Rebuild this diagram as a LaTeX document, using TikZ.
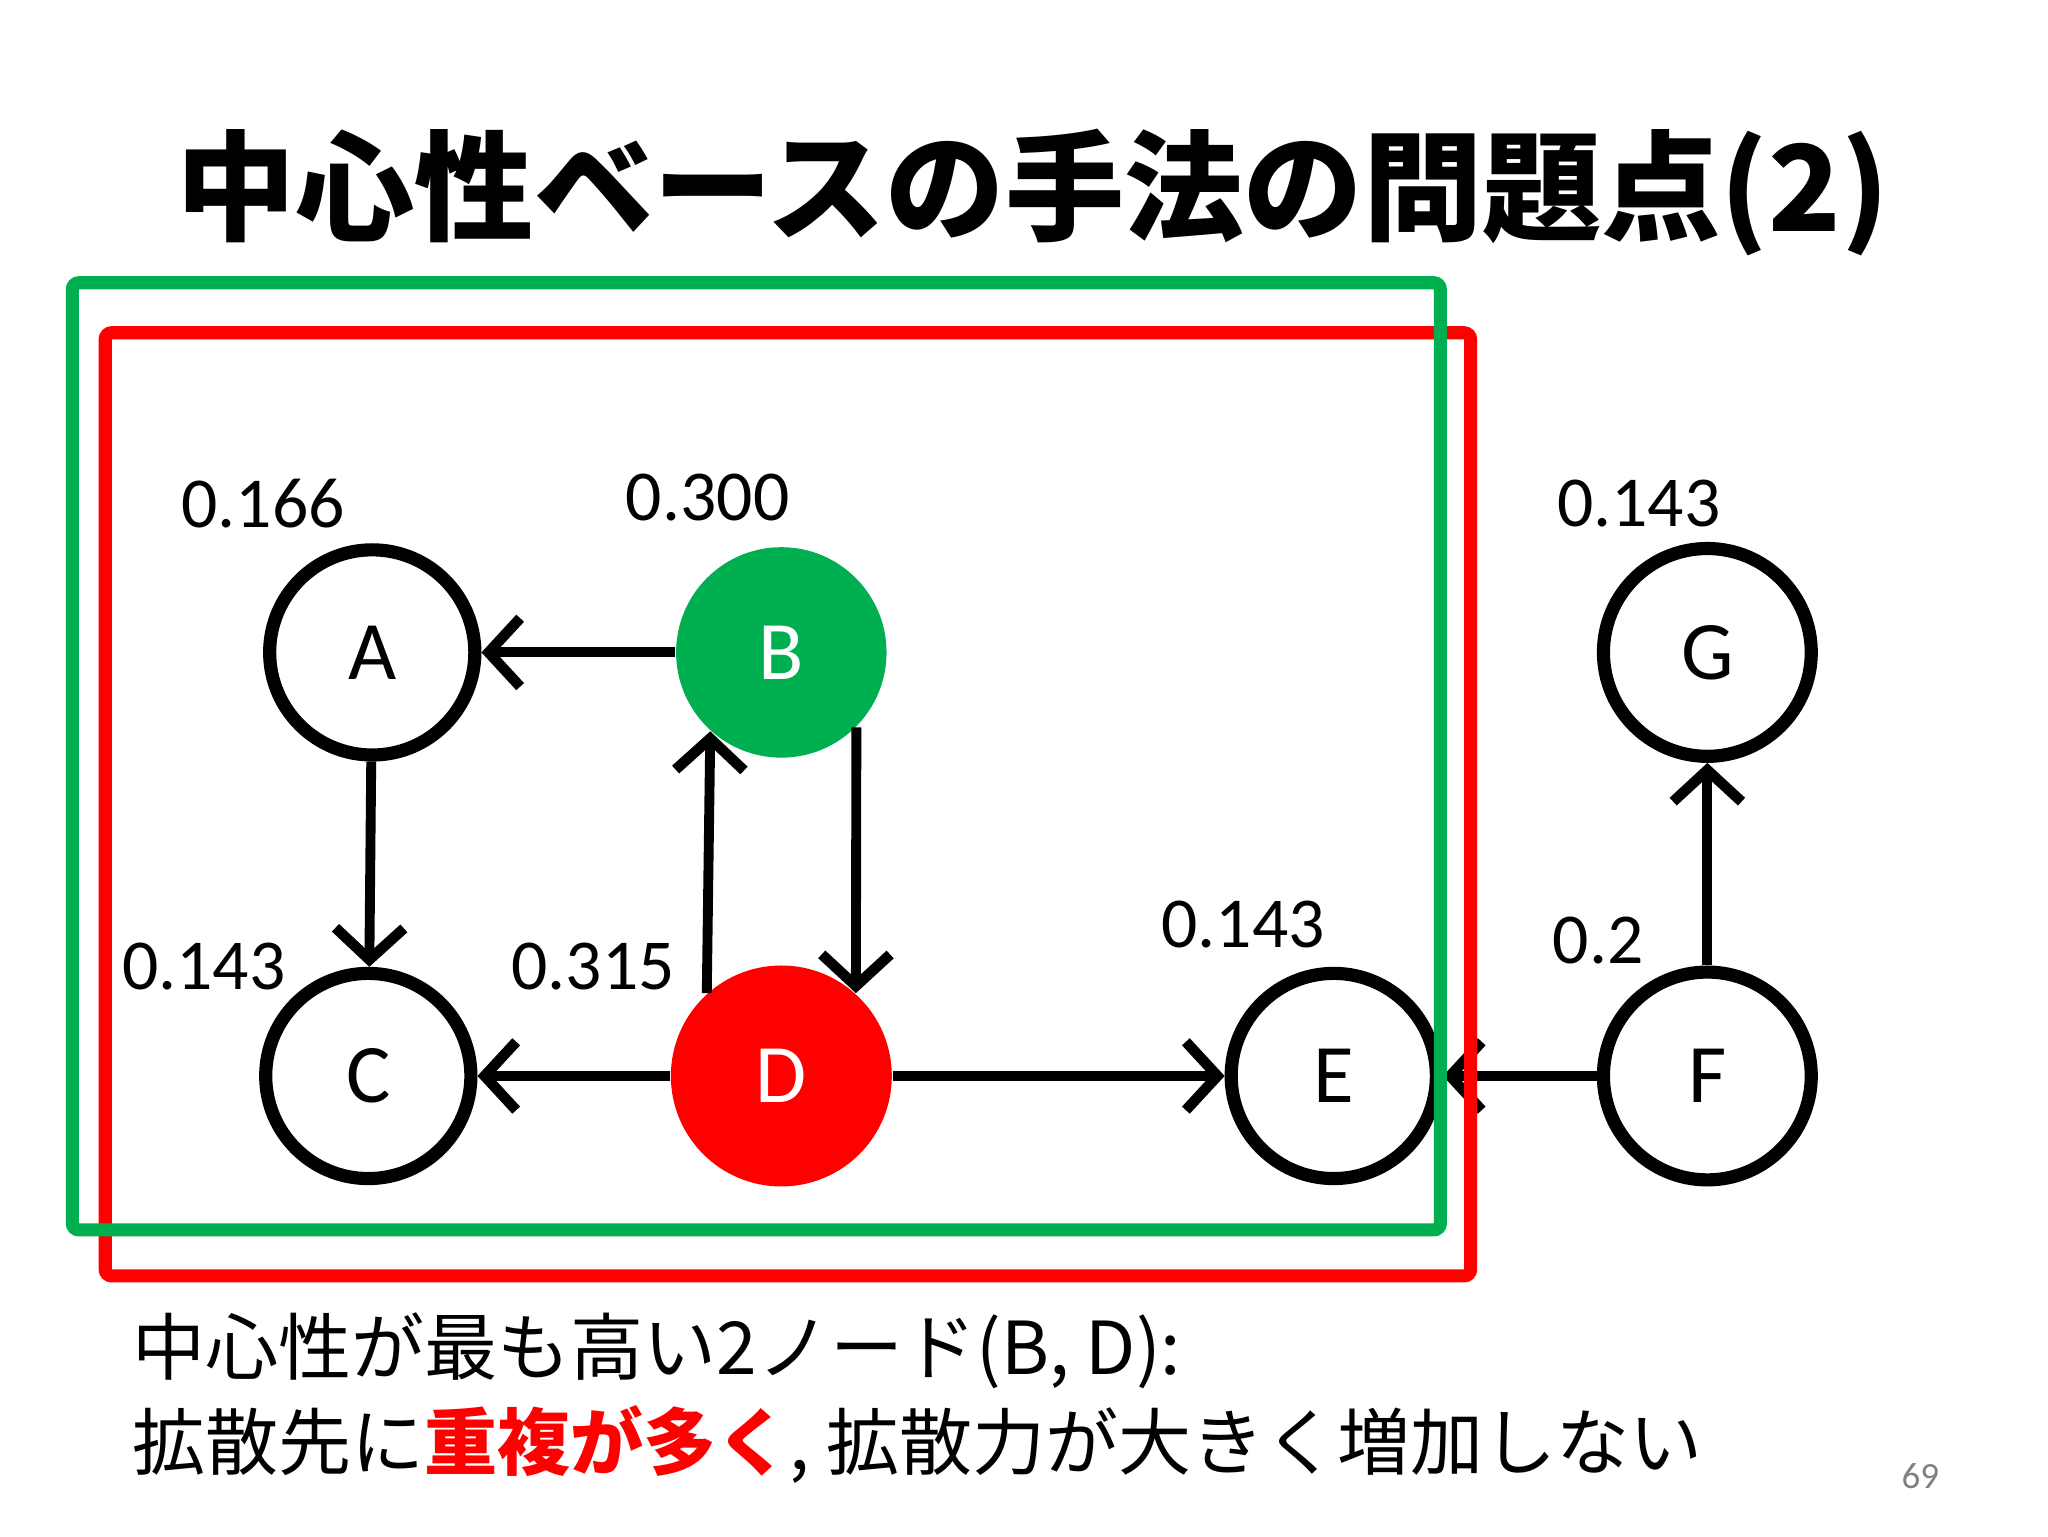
\documentclass[tikz,border=0pt]{standalone}
\usepackage{fontspec}
\setmainfont{Carlito}
\newfontfamily\cjk{Noto Sans CJK JP}
\usetikzlibrary{arrows.meta}
\definecolor{pgreen}{RGB}{0,176,80}
\begin{document}
\begin{tikzpicture}[
  nd/.style={circle,draw=black,line width=0.1cm,minimum size=1.56cm,inner sep=0pt,font=\fontsize{18}{20}\selectfont},
  lbl/.style={font=\fontsize{15.5}{18}\selectfont},
  arr/.style={line width=0.075cm,-{Straight Barb[length=0.24cm,width=0.52cm,line width=0.08cm]}},
  box/.style={line width=0.1cm,rounded corners=0.05cm}
]
\useasboundingbox (0,0) rectangle (15.57,11.68);
\fill[white] (0,0) rectangle (15.57,11.68);
\node[font=\cjk\bfseries\fontsize{25.8}{30}\selectfont] (title) at (7.85,10.22) {中心性ベースの手法の問題点(2)};
\node[nd] (A) at (2.83,6.72) {A};
\node[circle,fill=pgreen,text=white,minimum size=1.6cm,inner sep=0pt,font=\fontsize{18}{20}\selectfont] (B) at (5.94,6.72) {B};
\node[nd] (C) at (2.80,3.50) {C};
\node[circle,fill=red,text=white,minimum size=1.68cm,inner sep=0pt,font=\fontsize{18}{20}\selectfont] (D) at (5.94,3.50) {D};
\node[nd] (E) at (10.14,3.50) {E};
\node[nd,minimum size=1.58cm] (F) at (12.98,3.50) {F};
\node[nd,minimum size=1.58cm] (G) at (12.98,6.72) {G};
\node[lbl] (la) at (2.00,7.85) {0.166};
\node[lbl] (lb) at (5.38,7.90) {0.300};
\node[lbl] (lg) at (12.46,7.85) {0.143};
\node[lbl] (lc) at (1.55,4.33) {0.143};
\node[lbl] (ld) at (4.51,4.33) {0.315};
\node[lbl] (le) at (9.45,4.65) {0.143};
\node[lbl] (lf) at (12.15,4.53) {0.2};
\draw[arr] (B) -- (A);
\draw[arr] (A) -- (C);
\draw[arr] (D.132) -- (B.228);
\draw[arr] (B.-45) -- (D.48);
\draw[arr] (D) -- (C);
\draw[arr] (D) -- (E);
\draw[arr] (F) -- (E);
\draw[arr] (F) -- (G);
\draw[box,red] (0.80,9.15) rectangle (11.18,1.98);
\draw[box,pgreen] (0.55,9.53) rectangle (10.95,2.33);
\node[anchor=west,font=\cjk\fontsize{15.8}{18}\selectfont,inner sep=0pt] (t1) at (1.00,1.41) {中心性が最も高い2ノード(B, D):};
\node[anchor=west,font=\cjk\fontsize{15.8}{18}\selectfont,inner sep=0pt] (t2) at (1.00,0.70) {拡散先に{\color{red}\bfseries 重複が多く}, 拡散力が大きく増加しない};
\node[font=\fontsize{8}{10}\selectfont,text=gray] (pg) at (14.60,0.46) {69};
\end{tikzpicture}
\end{document}
